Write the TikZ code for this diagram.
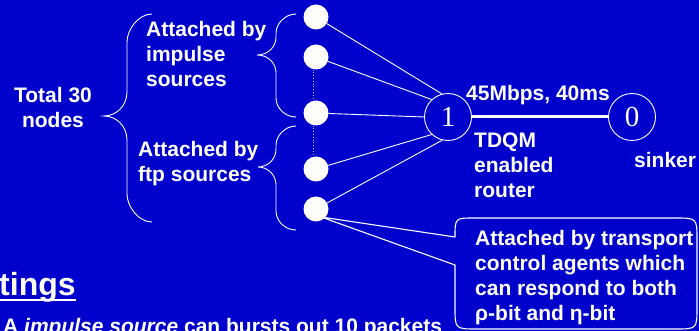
\documentclass[tikz,border=0pt]{standalone}
\usepackage{fontspec}
\setmainfont{Liberation Sans}
\newfontfamily\digitfont{Liberation Serif}
\definecolor{slideblue}{RGB}{0,0,204}
\begin{document}
\begin{tikzpicture}[x=1pt,y=-1pt,
  % multi-line labels are placed by the baseline of their last line
  label text/.style={text=white, font=\fontsize{21}{25}\selectfont\bfseries,
    inner sep=0pt, align=left, anchor=base west},
  source/.style={circle, fill=white, minimum size=25pt, inner sep=0pt},
  router/.style={circle, draw=white, line width=0.9pt, minimum size=47pt,
    inner sep=0pt, text=white, font=\digitfont\fontsize{29}{29}\selectfont},
  thin link/.style={draw=white, line width=0.9pt},
  trunk/.style={draw=white, line width=3pt},
  brace line/.style={draw=white, line width=0.9pt},
  chain/.style={draw=white!75!slideblue, line width=0.8pt, dotted},
  callout line/.style={draw=white, line width=1.1pt, line join=round},
]
% slide background
\fill[slideblue] (0,0) rectangle (699,331);
\useasboundingbox (0,0) rectangle (699,331);
\clip (0,0) rectangle (699,331);

% callout box with its pointer towards the last source
\coordinate (ctip) at (321,217);
\coordinate (cb1) at (455,237);
\coordinate (cb2) at (455,265);
\draw[callout line] (cb2) -- (ctip) -- (cb1)
  .. controls (455,218) .. (475,218) -- (675,218)
  .. controls (697,218) .. (697,240) -- (697,307)
  .. controls (697,329) .. (675,329) -- (477,329)
  .. controls (455,329) .. (455,307) -- cycle;

% source nodes
\node[source] (s1) at (316,17) {};
\node[source] (s2) at (316,57) {};
\node[source] (s3) at (316,113) {};
\node[source] (s4) at (316,169) {};
\node[source] (s5) at (316,209) {};

% router and sink
\node[router] (n1) at (448,117) {1};
\node[router] (n0) at (632,117) {0};

% access links
\draw[thin link] (s1) -- (n1.105);
\draw[thin link] (s2) -- (n1.133);
\draw[thin link] (s3) -- (n1.180);
\draw[thin link] (s4) -- (n1.227);
\draw[thin link] (s5) -- (n1.256);

% bottleneck link
\draw[trunk] (n1) -- (n0);

% omitted sources in between
\draw[chain] ([xshift=-3pt]s2.south) -- ([xshift=-3pt]s3.north);
\draw[chain] ([xshift=-3pt]s3.south) -- ([xshift=-3pt]s4.north);

% braces built from quarter-ellipse arcs
\draw[brace line] (152,14) .. controls (138,14) and (127,30) .. (127,42) -- (127,92)
  .. controls (127,105) and (117,116) .. (104,116)
  .. controls (117,116) and (127,127) .. (127,140)
  -- (127,194) .. controls (127,206) and (138,222) .. (152,222);
\draw[brace line] (296,14) .. controls (285,14) and (276,24) .. (276,33) -- (276,37)
  .. controls (276,47) and (268,55) .. (257,55)
  .. controls (268,55) and (276,63) .. (276,73)
  -- (276,98) .. controls (276,108) and (285,117) .. (296,117);
\draw[brace line] (296,126) .. controls (285,126) and (276,136) .. (276,145) -- (276,149)
  .. controls (276,159) and (268,167) .. (258,167)
  .. controls (268,167) and (276,175) .. (276,185)
  -- (276,211) .. controls (276,221) and (285,230) .. (296,230);

% labels
\node[label text, anchor=base, align=center] (total) at (53,128) {Total 30\\nodes};
\node[label text] (imp) at (146,87) {Attached by\\impulse\\sources};
\node[label text] (ftp) at (138,182) {Attached by\\ftp sources};
\node[label text] (bw) at (466,101) {45Mbps, 40ms};
\node[label text] (tdqm) at (474,198) {TDQM\\enabled\\router};
\node[label text] (sink) at (634,168) {sinker};
\node[label text] (ctext) at (475,320) {Attached by transport\\control agents which\\can respond to both\\ρ-bit and η-bit};

% section heading and first line of text
\node[label text, font=\fontsize{32}{36}\selectfont\bfseries] (head) at (-1,295) {tings};
\draw[white, line width=2.5pt] ([yshift=-5pt]head.base west) -- ([yshift=-5pt]head.base east);
\node[label text] (bline) at (3,333) {A \textit{impulse source} can bursts out 10 packets};
\end{tikzpicture}
\end{document}
